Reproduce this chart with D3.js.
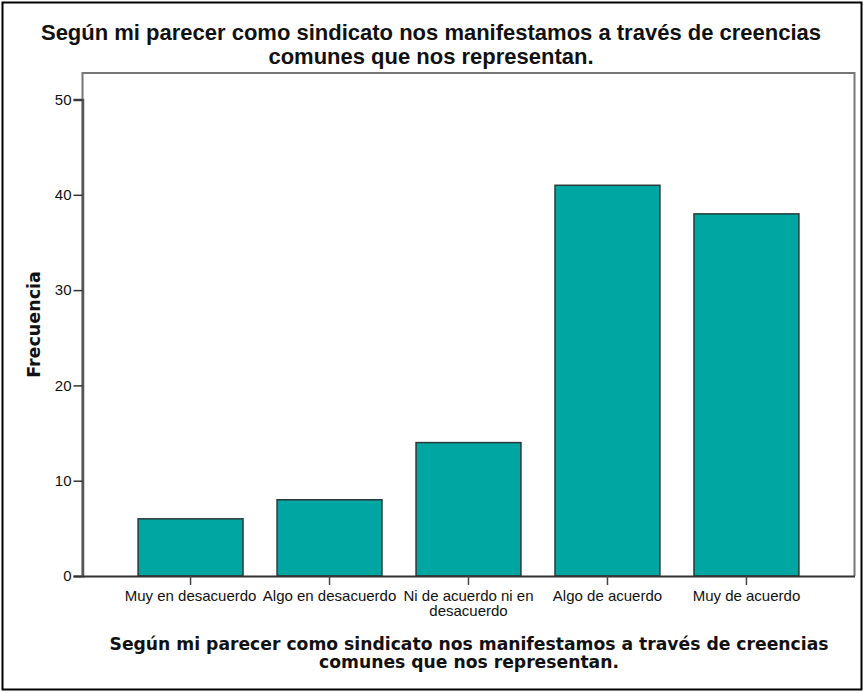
<!DOCTYPE html>
<html><head><meta charset="utf-8">
<script src="https://cdn.jsdelivr.net/npm/d3@7"></script>
<style>body{margin:0;background:#fff}</style>
</head><body>
<script>
const categories = ["Muy en desacuerdo","Algo en desacuerdo","Ni de acuerdo ni en desacuerdo","Algo de acuerdo","Muy de acuerdo"];
const categoryLines = [["Muy en desacuerdo"],["Algo en desacuerdo"],["Ni de acuerdo ni en","desacuerdo"],["Algo de acuerdo"],["Muy de acuerdo"]];
const frecuencia = [6, 8, 14, 41, 38];
const yTicks = [0, 10, 20, 30, 40, 50];
const titleLines = ["Según mi parecer como sindicato nos manifestamos a través de creencias","comunes que nos representan."];
const yTitle = "Frecuencia";

(function() {
const W = 866, H = 693;
const svg = d3.select("body").append("svg").attr("width", W).attr("height", H);
svg.append("rect").attr("x", 2.5).attr("y", 2.5).attr("width", 859).attr("height", 687)
  .attr("fill", "#fff").attr("stroke", "#000").attr("stroke-width", 2);

const pLeft = 82.5, pRight = 854.5, pTop = 73, zeroY = 576;
const x = d3.scaleBand().domain(categories).range([pLeft, pRight]).paddingInner(0.245).paddingOuter(0.4);
const y = d3.scaleLinear().domain([0, 50]).range([zeroY, 99.5]);

// frame
svg.append("path").attr("d", `M${pLeft},${zeroY}V${pTop}H${pRight}V${zeroY}`)
  .attr("fill", "none").attr("stroke", "#777").attr("stroke-width", 2);

// title
svg.append("text").attr("text-anchor", "middle").attr("fill", "#111")
  .attr("font-family", "Liberation Sans, Arial, sans-serif").attr("font-weight", "bold").attr("font-size", 22)
  .selectAll("tspan").data(titleLines).join("tspan")
  .attr("x", 431).attr("y", (d, i) => 40 + i * 23.5).text(d => d);

// bars
svg.append("g").selectAll("rect").data(frecuencia).join("rect")
  .attr("x", (d, i) => x(categories[i])).attr("width", x.bandwidth())
  .attr("y", d => y(d)).attr("height", d => y(0) - y(d))
  .attr("fill", "#00A6A1").attr("stroke", "#2a3a3a").attr("stroke-width", 1.5);

// y axis
const ya = svg.append("g").attr("transform", `translate(${pLeft},0)`)
  .call(d3.axisLeft(y).tickValues(yTicks).tickSize(9).tickPadding(2).tickFormat(d3.format("d")));
ya.select(".domain").attr("stroke", "#555").attr("stroke-width", 2.5);
ya.selectAll(".tick line").attr("stroke", "#333").attr("stroke-width", 1.5);
ya.selectAll(".tick text").attr("font-family", "Liberation Sans, Arial, sans-serif").attr("font-size", 15).attr("fill", "#111");

// x axis
const xa = svg.append("g").attr("transform", `translate(0,${zeroY})`)
  .call(d3.axisBottom(x).tickSize(9).tickSizeOuter(0).tickFormat(""));
xa.select(".domain").attr("stroke", "#333").attr("stroke-width", 2);
xa.selectAll(".tick line").attr("stroke", "#444").attr("stroke-width", 1.5);
xa.selectAll(".tick").append("text").attr("fill", "#111")
  .attr("font-family", "Liberation Sans, Arial, sans-serif").attr("font-size", 15).attr("text-anchor", "middle")
  .each(function(d, i) {
    d3.select(this).selectAll("tspan").data(categoryLines[i]).join("tspan")
      .attr("x", 0).attr("y", (t, j) => 25 + j * 15).text(t => t);
  });

// x title
svg.append("text").attr("text-anchor", "middle")
  .attr("font-family", "DejaVu Sans, Verdana, sans-serif").attr("font-weight", "bold").attr("font-size", 17.2)
  .attr("fill", "#111")
  .selectAll("tspan").data(titleLines).join("tspan")
  .attr("x", 469).attr("y", (d, i) => 650 + i * 18).text(d => d);

// y title
svg.append("text").attr("transform", `translate(40,${(pTop + zeroY) / 2}) rotate(-90)`)
  .attr("text-anchor", "middle").attr("font-family", "DejaVu Sans, Verdana, sans-serif")
  .attr("font-weight", "bold").attr("font-size", 17.5).attr("fill", "#111").text(yTitle);
})();
</script>
</body></html>
